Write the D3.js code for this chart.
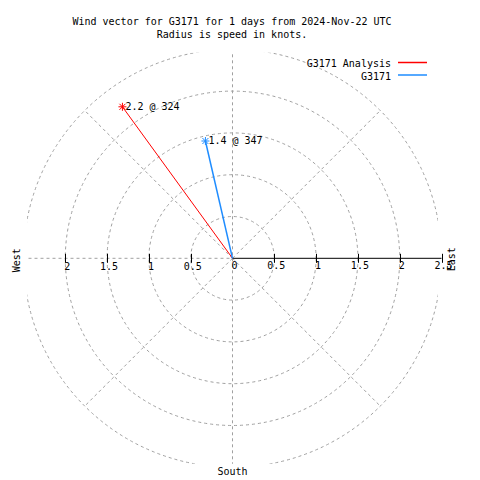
<!DOCTYPE html>
<html>
<head>
<meta charset="utf-8">
<script src="https://cdn.jsdelivr.net/npm/d3@7"></script>
<style>
  html, body { margin: 0; padding: 0; background: #fff; }
  svg { display: block; }
  text { font-family: "DejaVu Sans Mono", "Liberation Mono", monospace; font-size: 10px; fill: #000; }
</style>
</head>
<body>
<svg id="chart" width="480" height="480"></svg>
<script>
// ---- data ----
const titleLines = ["Wind vector for G3171 for 1 days from 2024-Nov-22 UTC", "Radius is speed in knots."];
const seriesNames = ["G3171 Analysis", "G3171"];
const seriesColors = ["#ff0000", "#1e8cff"];
const speeds = [2.24, 1.44];        // knots
const directions = [324, 347];      // degrees, clockwise from north
const rTicks = [0, 0.5, 1, 1.5, 2, 2.5];
const gridRadii = [0.5, 1, 1.5, 2, 2.5];
const spokeAngles = [45, 135, 225, 315];
const compassLabels = ["West", "East", "South"];

// ---- layout ----
const svg = d3.select("#chart");
const cx = 232.5, cy = 258.3, R = 209, clipHalf = 205.5;
const r = d3.scaleLinear().domain([0, 2.5]).range([0, R]);
const x = d3.scaleLinear().domain([-2.5, 2.5]).range([cx - R, cx + R]);
const gridColor = "#a0a0a0";

svg.append("defs").append("clipPath").attr("id", "plotclip")
  .append("rect").attr("x", cx - clipHalf).attr("y", cy - clipHalf)
  .attr("width", 2 * clipHalf).attr("height", 2 * clipHalf);

const grid = svg.append("g").attr("clip-path", "url(#plotclip)")
  .attr("fill", "none").attr("stroke", gridColor).attr("stroke-width", 1)
  .attr("stroke-dasharray", "3,3");

grid.selectAll("circle").data(gridRadii).join("circle")
  .attr("cx", cx).attr("cy", cy).attr("r", d => r(d));

grid.selectAll("line.spoke").data(spokeAngles).join("line").attr("class", "spoke")
  .attr("x1", cx).attr("y1", cy)
  .attr("x2", d => cx + r(2.5) * Math.sin(d * Math.PI / 180))
  .attr("y2", d => cy - r(2.5) * Math.cos(d * Math.PI / 180));

// vertical dashed axis and left dashed horizontal axis
grid.append("line").attr("x1", cx).attr("x2", cx).attr("y1", cy - 210).attr("y2", cy + 210);
grid.append("line").attr("x1", cx - 210).attr("x2", cx).attr("y1", cy).attr("y2", cy);

// solid right axis
const axisG = svg.append("g").attr("stroke", "#000").attr("stroke-width", 1);
axisG.append("line").attr("x1", cx).attr("x2", x(2.5)).attr("y1", cy).attr("y2", cy);
const rightTicks = rTicks.filter(d => d > 0);
const leftTicks = rTicks.filter(d => d > 0 && d < 2.5);
axisG.selectAll("line.rt").data(rightTicks).join("line").attr("class", "rt")
  .attr("x1", d => Math.round(x(d)) + 0.5).attr("x2", d => Math.round(x(d)) + 0.5)
  .attr("y1", cy - 4.5).attr("y2", cy + 4.5);
axisG.selectAll("line.lt").data(leftTicks).join("line").attr("class", "lt")
  .attr("x1", d => Math.round(x(-d)) + 0.5).attr("x2", d => Math.round(x(-d)) + 0.5)
  .attr("y1", cy - 4.5).attr("y2", cy + 4.5);

// tick labels
const fmt = d => String(d);
svg.append("g").selectAll("text").data(rTicks.filter(d => d > 0 && d < 2.5)).join("text")
  .attr("x", d => x(-d) + 2).attr("y", cy + 12).attr("text-anchor", "middle").text(fmt);
svg.append("g").selectAll("text").data(rTicks).join("text")
  .attr("x", d => x(d) + 2).attr("y", cy + 11).attr("text-anchor", "middle").text(fmt);

// compass labels
svg.append("text").attr("transform", `translate(19.5,${cy + 2}) rotate(-90)`)
  .attr("text-anchor", "middle").text(compassLabels[0]);
svg.append("text").attr("transform", `translate(455,${cy + 1}) rotate(-90)`)
  .attr("text-anchor", "middle").text(compassLabels[1]);
svg.append("text").attr("x", cx).attr("y", 475).attr("text-anchor", "middle").text(compassLabels[2]);

// vectors
const vecs = speeds.map((s, i) => ({
  s, dir: directions[i], color: seriesColors[i], name: seriesNames[i],
  px: cx + r(s) * Math.sin(directions[i] * Math.PI / 180),
  py: cy - r(s) * Math.cos(directions[i] * Math.PI / 180)
}));
const vg = svg.append("g");
vg.selectAll("line").data(vecs).join("line")
  .attr("x1", cx).attr("y1", cy).attr("x2", d => d.px).attr("y2", d => d.py)
  .attr("stroke", d => d.color).attr("stroke-width", (d, i) => i === 0 ? 1 : 1.5);
const star = (px, py) => {
  const a = 4, b = 3;
  return `M${px - a},${py}L${px + a},${py}M${px},${py - a}L${px},${py + a}` +
         `M${px - b},${py - b}L${px + b},${py + b}M${px - b},${py + b}L${px + b},${py - b}`;
};
vg.selectAll("path").data(vecs).join("path")
  .attr("d", d => star(d.px, d.py)).attr("stroke", d => d.color).attr("fill", "none").attr("stroke-width", 1);
vg.selectAll("text").data(vecs).join("text")
  .attr("x", d => d.px + 3).attr("y", d => d.py + 3)
  .text(d => `${d.s.toFixed(1)} @ ${d.dir}`);

// title
svg.append("g").selectAll("text").data(titleLines).join("text")
  .attr("x", 232).attr("y", (d, i) => 25 + i * 12.5).attr("text-anchor", "middle").text(d => d);

// legend
const lg = svg.append("g");
lg.selectAll("text").data(seriesNames).join("text")
  .attr("x", 391).attr("y", (d, i) => 67 + i * 13).attr("text-anchor", "end").text(d => d);
lg.selectAll("line").data(seriesNames).join("line")
  .attr("x1", 398).attr("x2", 427)
  .attr("y1", (d, i) => 62.5 + i * 12.5).attr("y2", (d, i) => 62.5 + i * 12.5)
  .attr("stroke", (d, i) => seriesColors[i]).attr("stroke-width", 1.5);
</script>
</body>
</html>
